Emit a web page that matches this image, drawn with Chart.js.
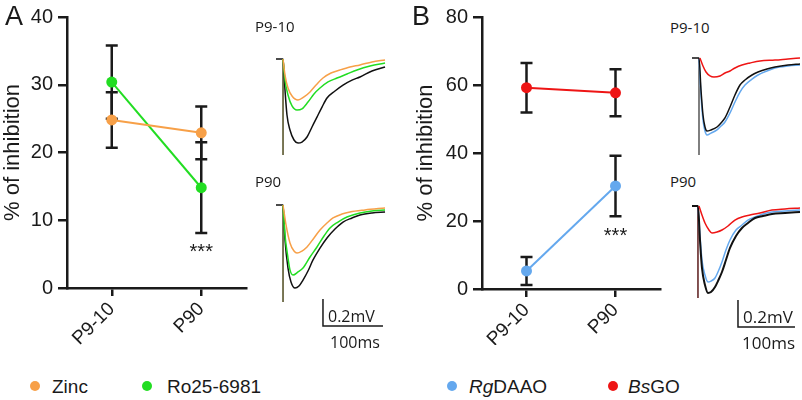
<!DOCTYPE html>
<html>
<head>
<meta charset="utf-8">
<script src="https://cdn.jsdelivr.net/npm/chart.js@4"></script>
<style>
  body { margin: 0; background: #fff; }
  #fig { position: relative; width: 802px; height: 400px; background: #fff; overflow: hidden; }
  #fig canvas { position: absolute; }
  .lbl { position: absolute; font: 15px/15px "Open Sans", sans-serif; color: #1a1a1a; white-space: nowrap; }
  .leg { position: absolute; font: 19px/19px "Liberation Sans", Arial, sans-serif; color: #1a1a1a; white-space: nowrap; }
  .dot { position: absolute; width: 10px; height: 10px; border-radius: 50%; }
</style>
</head>
<body>
<div id="fig">
  <canvas id="mainA" width="260" height="345" style="left:0;top:0"></canvas>
  <canvas id="mainB" width="270" height="345" style="left:400px;top:0"></canvas>
  <canvas id="trA1" width="120" height="110" style="left:270px;top:50px"></canvas>
  <canvas id="trA2" width="120" height="165" style="left:270px;top:196px"></canvas>
  <canvas id="trB1" width="116" height="110" style="left:686px;top:49px"></canvas>
  <canvas id="trB2" width="116" height="165" style="left:686px;top:197px"></canvas>

  <div class="lbl" style="left:255px;top:19px">P9-10</div>
  <div class="lbl" style="left:255px;top:174px">P90</div>
  <div class="lbl" style="left:670px;top:20px">P9-10</div>
  <div class="lbl" style="left:670px;top:174px">P90</div>

  <div class="dot" style="left:30px;top:381px;background:#f7a048"></div>
  <div class="leg" style="left:52px;top:377px">Zinc</div>
  <div class="dot" style="left:142px;top:381px;background:#22dd22"></div>
  <div class="leg" style="left:167px;top:377px">Ro25-6981</div>
  <div class="dot" style="left:447px;top:381px;background:#64a8ee"></div>
  <div class="leg" style="left:469px;top:377px"><i>Rg</i>DAAO</div>
  <div class="dot" style="left:608px;top:381px;background:#ee1515"></div>
  <div class="leg" style="left:628px;top:377px"><i>Bs</i>GO</div>
</div>
<script>
// group means and error (SEM), % of inhibition
const categories = ["P9-10", "P90"];
const zincMean = [24.8, 22.9];
const zincErr = [4.1, 3.9];
const roMean = [30.4, 14.8];
const roErr = [5.4, 6.7];
const rgMean = [5.3, 30.3];
const rgErr = [4.1, 8.9];
const bsMean = [59.2, 57.7];
const bsErr = [7.3, 6.9];
const yTicksA = [0, 10, 20, 30, 40];
const yTicksB = [0, 20, 40, 60, 80];

// example traces: time in ms, amplitude in mV
const tStimA1 = [11.7, 11.7];
const vStimA1 = [0, -0.711];
const tA1Black = [0, 11.7, 15, 18.3, 23.3, 30, 36.7, 43.3, 51.7, 60, 68.3, 76.7, 85, 98.3, 111.7, 126.7, 140, 160, 181.7];
const vA1Black = [0, 0, -0.23, -0.415, -0.526, -0.6, -0.622, -0.615, -0.578, -0.504, -0.43, -0.356, -0.289, -0.237, -0.193, -0.156, -0.133, -0.089, -0.059];
const tA1Green = [11.7, 15, 20, 26.7, 35, 43.3, 53.3, 63.3, 73.3, 86.7, 101.7, 118.3, 135, 156.7, 181.7];
const vA1Green = [0, -0.156, -0.267, -0.348, -0.378, -0.37, -0.319, -0.259, -0.215, -0.17, -0.141, -0.111, -0.081, -0.052, -0.03];
const tA1Orange = [11.7, 15, 20, 26.7, 36.7, 46.7, 56.7, 66.7, 78.3, 91.7, 106.7, 123.3, 140, 160, 181.7];
const vA1Orange = [0, -0.119, -0.215, -0.274, -0.304, -0.281, -0.244, -0.193, -0.141, -0.104, -0.081, -0.059, -0.044, -0.022, -0.007];

const tStimA2 = [11.7, 11.7];
const vStimA2 = [0, -0.719];
const tA2Black = [0, 11.7, 15, 20, 25, 31.7, 38.3, 45, 53.3, 61.7, 73.3, 85, 98.3, 111.7, 126.7, 140, 160, 181.7];
const vA2Black = [0, 0, -0.259, -0.467, -0.57, -0.615, -0.6, -0.556, -0.489, -0.407, -0.319, -0.244, -0.178, -0.126, -0.096, -0.074, -0.059, -0.052];
const tA2Green = [11.7, 15, 20, 23.3, 28.3, 36.7, 45, 56.7, 68.3, 80, 90, 103.3, 118.3, 140, 160, 181.7];
const vA2Green = [0, -0.222, -0.393, -0.481, -0.519, -0.496, -0.467, -0.385, -0.311, -0.23, -0.17, -0.126, -0.089, -0.059, -0.044, -0.037];
const tA2Orange = [11.7, 16.7, 23.3, 30, 35, 43.3, 51.7, 63.3, 73.3, 85, 95, 110, 123.3, 148.3, 181.7];
const vA2Orange = [0, -0.148, -0.281, -0.341, -0.356, -0.341, -0.311, -0.244, -0.185, -0.133, -0.096, -0.067, -0.052, -0.037, -0.022];

const tStimB1 = [12.3, 12.3];
const vStimB1 = [0, -0.719];
const tB1Black = [0, 12.3, 15.8, 19.3, 22.8, 26.3, 33.3, 43.9, 50.9, 57.9, 66.7, 75.4, 84.2, 93, 105.3, 115.8, 131.6, 145.6, 168.4, 189.5];
const vB1Black = [0, 0, -0.237, -0.422, -0.511, -0.541, -0.533, -0.511, -0.481, -0.444, -0.363, -0.274, -0.2, -0.163, -0.126, -0.104, -0.081, -0.067, -0.052, -0.044];
const tB1Blue = [12.3, 15.8, 19.3, 22.8, 26.3, 33.3, 43.9, 50.9, 57.9, 66.7, 75.4, 84.2, 93, 105.3, 115.8, 131.6, 145.6, 168.4, 189.5];
const vB1Blue = [0, -0.274, -0.459, -0.541, -0.57, -0.556, -0.533, -0.504, -0.474, -0.407, -0.326, -0.252, -0.2, -0.156, -0.126, -0.096, -0.074, -0.059, -0.052];
const tB1Red = [14, 19.3, 24.6, 31.6, 38.6, 49.1, 57.9, 66.7, 75.4, 87.7, 101.8, 119.3, 145.6, 168.4, 189.5];
const vB1Red = [0, -0.059, -0.104, -0.133, -0.141, -0.133, -0.111, -0.096, -0.074, -0.052, -0.037, -0.022, -0.015, -0.007, 0];

const tStimB2 = [10.5, 10.5];
const vStimB2 = [0, -0.681];
const tB2Black = [0, 10.5, 14, 17.5, 22.8, 28.1, 33.3, 40.4, 45.6, 52.6, 59.6, 66.7, 77.2, 87.7, 98.2, 110.5, 124.6, 140.4, 163.2, 189.5];
const vB2Black = [0, 0, -0.252, -0.459, -0.585, -0.644, -0.637, -0.6, -0.556, -0.489, -0.4, -0.311, -0.222, -0.163, -0.126, -0.089, -0.074, -0.059, -0.052, -0.044];
const tB2Blue = [10.5, 14, 17.5, 22.8, 28.1, 33.3, 40.4, 45.6, 52.6, 59.6, 66.7, 77.2, 87.7, 98.2, 110.5, 124.6, 140.4, 163.2, 189.5];
const vB2Blue = [0, -0.215, -0.4, -0.511, -0.563, -0.556, -0.533, -0.489, -0.415, -0.326, -0.252, -0.178, -0.141, -0.104, -0.081, -0.059, -0.044, -0.037, -0.03];
const tB2Red = [12.3, 17.5, 22.8, 29.8, 35.1, 43.9, 52.6, 63.2, 75.4, 87.7, 101.8, 119.3, 140.4, 163.2, 189.5];
const vB2Red = [0, -0.067, -0.126, -0.178, -0.2, -0.193, -0.178, -0.148, -0.104, -0.081, -0.067, -0.052, -0.03, -0.022, -0.015];

const ink = "#1a1a1a";
const orange = "#f7a048";
const green = "#22dd22";
const blue = "#64a8ee";
const red = "#ee1515";

// error bars under the points
const errorBars = {
  id: "errorBars",
  beforeDatasetsDraw(chart) {
    const { ctx, scales: { x, y } } = chart;
    ctx.save();
    ctx.strokeStyle = ink;
    ctx.lineWidth = 2.5;
    chart.data.datasets.forEach(ds => {
      ds.data.forEach((m, i) => {
        const px = x.getPixelForValue(i);
        const top = y.getPixelForValue(m + ds.errors[i]);
        const bot = y.getPixelForValue(m - ds.errors[i]);
        ctx.beginPath();
        ctx.moveTo(px, top); ctx.lineTo(px, bot);
        ctx.moveTo(px - 6, top); ctx.lineTo(px + 6, top);
        ctx.moveTo(px - 6, bot); ctx.lineTo(px + 6, bot);
        ctx.stroke();
      });
    });
    ctx.restore();
  }
};

// panel letter and significance stars
const annotate = {
  id: "annotate",
  afterDraw(chart, args, opts) {
    const { ctx, scales: { x, y } } = chart;
    ctx.save();
    ctx.fillStyle = ink;
    ctx.font = '27px "Liberation Sans", Arial, sans-serif';
    ctx.textAlign = "left";
    ctx.textBaseline = "alphabetic";
    ctx.fillText(opts.letter, opts.letterX, 25);
    ctx.font = '20px "Liberation Sans", Arial, sans-serif';
    ctx.textAlign = "center";
    ctx.fillText("***", x.getPixelForValue(opts.starIndex), y.getPixelForValue(opts.starValue) + 11);
    ctx.restore();
  }
};

function mainChart(id, datasets, o) {
  return new Chart(document.getElementById(id), {
    type: "line",
    data: { labels: categories, datasets: datasets },
    options: {
      responsive: false,
      animation: false,
      layout: { padding: { top: 15, right: o.padRight, left: 0, bottom: 0 } },
      plugins: {
        legend: { display: false },
        tooltip: { enabled: false },
        annotate: o.annotate
      },
      scales: {
        x: {
          offset: true,
          grid: { offset: false, drawOnChartArea: false, tickLength: 8, color: ink, lineWidth: 2.5 },
          border: { color: ink, width: 2.5 },
          ticks: { color: ink, maxRotation: 45, minRotation: 45, padding: 2,
                   font: { family: '"Liberation Sans", Arial, sans-serif', size: 19 } },
          afterFit: s => { s.height = o.xHeight; }
        },
        y: {
          min: 0,
          max: o.ticks[o.ticks.length - 1],
          afterBuildTicks: s => { s.ticks = o.ticks.map(v => ({ value: v })); },
          grid: { drawOnChartArea: false, tickLength: 9, color: ink, lineWidth: 2.5 },
          border: { color: ink, width: 2.5 },
          ticks: { color: ink, padding: 5, font: { family: '"Liberation Sans", Arial, sans-serif', size: 20 } },
          title: { display: true, text: "% of inhibition", color: ink, padding: { top: o.titlePad, bottom: 0 },
                   font: { family: '"Liberation Sans", Arial, sans-serif', size: 22 } },
          afterFit: s => { s.width = o.yWidth; }
        }
      }
    },
    plugins: [errorBars, annotate]
  });
}

function series(label, mean, err, color) {
  return {
    label: label, data: mean, errors: err,
    borderColor: color, backgroundColor: color,
    pointBackgroundColor: color, pointBorderWidth: 0, pointRadius: 5.5,
    borderWidth: 2, tension: 0
  };
}

mainChart("mainA", [
  series("Zinc", zincMean, zincErr, orange),
  series("Ro25-6981", roMean, roErr, green)
], { padRight: 14, xHeight: 57, yWidth: 67, titlePad: 0, ticks: yTicksA,
     annotate: { letter: "A", letterX: 5, starIndex: 1, starValue: 6 } });

mainChart("mainB", [
  series("BsGO", bsMean, bsErr, red),
  series("RgDAAO", rgMean, rgErr, blue)
], { padRight: 10, xHeight: 56, yWidth: 82, titlePad: 13, ticks: yTicksB,
     annotate: { letter: "B", letterX: 12, starIndex: 1, starValue: 17.2 } });

// scale bar drawn through the trace scales
const scaleBar = {
  id: "scaleBar",
  afterDraw(chart, args, o) {
    if (!o || o.t === undefined) return;
    const { ctx, scales: { x, y } } = chart;
    const x0 = x.getPixelForValue(o.t), x1 = x.getPixelForValue(o.t + o.dt);
    const y0 = y.getPixelForValue(o.v), y1 = y.getPixelForValue(o.v + o.dv);
    ctx.save();
    ctx.strokeStyle = ink;
    ctx.lineWidth = 1.5;
    ctx.beginPath();
    ctx.moveTo(x0, y1); ctx.lineTo(x0, y0); ctx.lineTo(x1, y0);
    ctx.stroke();
    ctx.fillStyle = ink;
    ctx.font = o.size + 'px "Open Sans", sans-serif';
    ctx.textBaseline = "middle";
    ctx.textAlign = "left";
    ctx.fillText("0.2mV", x0 + 5, y0 - 9);
    ctx.textAlign = "center";
    ctx.fillText("100ms", (x0 + x1) / 2 + 2, y0 + 17);
    ctx.restore();
  }
};

function trace(t, v, color, width) {
  return {
    data: t.map((tt, i) => ({ x: tt, y: v[i] })),
    borderColor: color, borderWidth: width || 1.5,
    pointRadius: 0, cubicInterpolationMode: "monotone", clip: false, fill: false
  };
}

function traceChart(id, datasets, xr, yr, bar) {
  return new Chart(document.getElementById(id), {
    type: "line",
    data: { datasets: datasets },
    options: {
      responsive: false,
      animation: false,
      layout: { padding: 0 },
      plugins: { legend: { display: false }, tooltip: { enabled: false }, scaleBar: bar || {} },
      scales: {
        x: { type: "linear", min: xr[0], max: xr[1], display: false },
        y: { min: yr[0], max: yr[1], display: false }
      }
    },
    plugins: [scaleBar]
  });
}

const yTop = [-101 / 135, 9 / 135];
const yBottom = [-156 / 135, 9 / 135];

traceChart("trA1", [
  trace(tA1Orange, vA1Orange, orange),
  trace(tA1Green, vA1Green, green),
  trace(tA1Black, vA1Black, "#111"),
  trace(tStimA1, vStimA1, "#4d4a1e", 1.5)
], [-10, 190], yTop);

traceChart("trA2", [
  trace(tA2Orange, vA2Orange, orange),
  trace(tA2Green, vA2Green, green),
  trace(tA2Black, vA2Black, "#111"),
  trace(tStimA2, vStimA2, "#4d4a1e", 1.5)
], [-10, 190], yBottom, { t: 78.3, v: -0.896, dt: 100, dv: 0.2, size: 16 });

traceChart("trB1", [
  trace(tB1Red, vB1Red, red),
  trace(tB1Black, vB1Black, "#111"),
  trace(tB1Blue, vB1Blue, blue),
  trace(tStimB1, vStimB1, "#555", 1.5)
], [-10.5, 193], yTop);

traceChart("trB2", [
  trace(tB2Red, vB2Red, red),
  trace(tB2Black, vB2Black, "#111", 2),
  trace(tB2Blue, vB2Blue, blue),
  trace(tStimB2, vStimB2, "#5a1a1a", 1.5)
], [-10.5, 193], yBottom, { t: 80.7, v: -0.896, dt: 100, dv: 0.2, size: 17 });
</script>
</body>
</html>
